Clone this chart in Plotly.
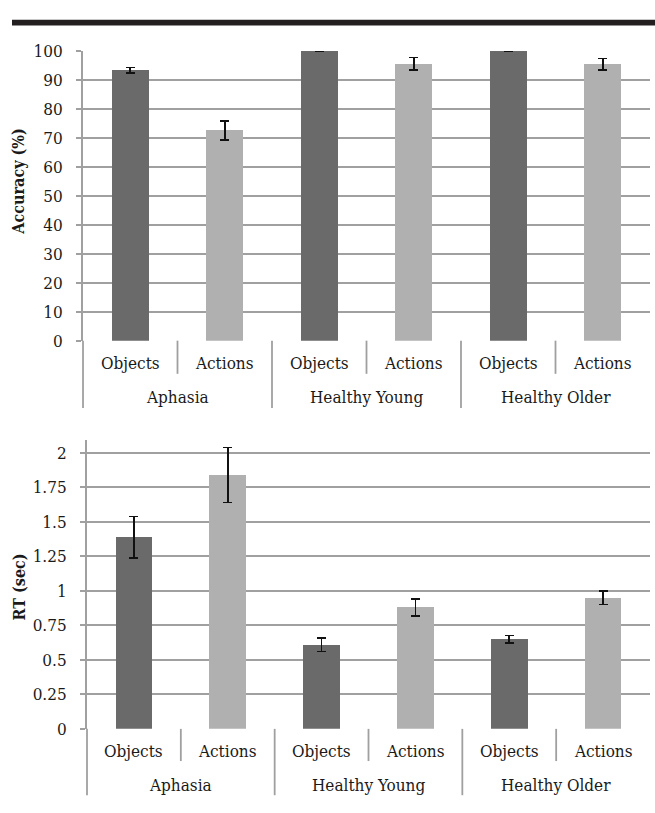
import plotly.graph_objects as go

# ---- data ----
groups = ["Aphasia", "Healthy Young", "Healthy Older"]
conditions = ["Objects", "Actions"]

accuracy = [93.3, 72.6, 100.0, 95.6, 100.0, 95.4]
accuracy_err = [1.0, 3.3, 0.0, 2.1, 0.0, 2.0]

rt = [1.39, 1.84, 0.61, 0.88, 0.65, 0.95]
rt_err = [0.15, 0.20, 0.048, 0.06, 0.028, 0.05]

acc_ticks = list(range(0, 101, 10))
rt_ticks = [0, 0.25, 0.5, 0.75, 1, 1.25, 1.5, 1.75, 2]
rt_tick_text = ["0", "0.25", "0.5", "0.75", "1", "1.25", "1.5", "1.75", "2"]

# ---- styling ----
W, H = 655, 813
DARK = "#6a6a6a"
LIGHT = "#b0b0b0"
GRID = "#a0a0a0"
FONT = "DejaVu Serif Condensed, Liberation Serif, serif"
TXT = "#1a1a1a"

n_cat = len(groups) * len(conditions)
xpos = [i + 0.5 for i in range(n_cat)]
bar_colors = [DARK if i % 2 == 0 else LIGHT for i in range(n_cat)]


def py(pix):
    """pixel row -> paper y"""
    return 1 - pix / H


def px(pix):
    return pix / W


fig = go.Figure()

panels = [
    dict(vals=accuracy, errs=accuracy_err, xa="x", ya="y",
         x0=83, x1=650, top=42, bot=339, rng=[0, 100], ticks=acc_ticks,
         ticktext=[str(t) for t in acc_ticks], title="Accuracy (%)",
         title_y=176, cat_y=362, grp_y=397, cat_end=373, grp_end=408),
    dict(vals=rt, errs=rt_err, xa="x2", ya="y2",
         x0=87, x1=650, top=441, bot=737, rng=[0, 2.092], ticks=rt_ticks,
         ticktext=rt_tick_text, title="RT (sec)",
         title_y=592, cat_y=760, grp_y=795, cat_end=770, grp_end=805),
]

shapes = []
annotations = []

for k, p in enumerate(panels):
    fig.add_trace(go.Bar(
        x=xpos, y=p["vals"], xaxis=p["xa"], yaxis=p["ya"],
        width=0.39, marker=dict(color=bar_colors, line=dict(width=0)),
        error_y=dict(type="data", array=p["errs"], visible=True,
                     color="#111111", thickness=1.6, width=4.5),
        showlegend=False, hoverinfo="skip",
    ))
    suffix = "" if k == 0 else "2"
    fig.update_layout(**{
        "xaxis" + suffix: dict(
            domain=[px(p["x0"]), px(p["x1"])], range=[0, n_cat],
            anchor="y" + suffix, showticklabels=False, showgrid=False,
            zeroline=False, showline=False, fixedrange=True),
        "yaxis" + suffix: dict(
            domain=[py(p["bot"]), py(p["top"])], range=p["rng"],
            anchor="x" + suffix, tickvals=p["ticks"], ticktext=p["ticktext"],
            showgrid=True, gridcolor=GRID, gridwidth=1.8,
            zeroline=False, showline=True, linecolor=GRID, linewidth=1.8,
            ticks="outside", ticklen=5, tickcolor=GRID, tickwidth=1.8,
            ticklabelstandoff=10,
            tickfont=dict(family=FONT, size=17, color=TXT), fixedrange=True),
    })

    xref = p["xa"]
    # separators under the category axis
    for b in range(1, n_cat):
        end = p["grp_end"] if b % 2 == 0 else p["cat_end"]
        shapes.append(dict(type="line", xref=xref, yref="paper",
                           x0=b, x1=b, y0=py(p["bot"]), y1=py(end),
                           line=dict(color=GRID, width=1.8)))
    # y-axis line continues down past the labels
    shapes.append(dict(type="line", xref="paper", yref="paper",
                       x0=px(p["x0"]), x1=px(p["x0"]),
                       y0=py(p["bot"]), y1=py(p["grp_end"]),
                       line=dict(color=GRID, width=1.8)))

    for i in range(n_cat):
        annotations.append(dict(
            x=xpos[i], y=py(p["cat_y"]), xref=xref, yref="paper",
            text=conditions[i % 2], showarrow=False,
            font=dict(family=FONT, size=17, color=TXT),
            xanchor="center", yanchor="middle"))
    for g, name in enumerate(groups):
        annotations.append(dict(
            x=2 * g + 1, y=py(p["grp_y"]), xref=xref, yref="paper",
            text=name, showarrow=False,
            font=dict(family=FONT, size=17, color=TXT),
            xanchor="center", yanchor="middle"))
    annotations.append(dict(
        x=px(19), y=py(p["title_y"]),
        xref="paper", yref="paper", text="<b>%s</b>" % p["title"],
        textangle=-90, showarrow=False,
        font=dict(family=FONT, size=16, color=TXT),
        xanchor="center", yanchor="middle"))

# heavy rule across the top
shapes.append(dict(type="rect", xref="paper", yref="paper",
                   x0=px(12), x1=1, y0=py(16), y1=py(10),
                   fillcolor="#231f20", line=dict(width=0)))

fig.update_layout(
    width=W, height=H, margin=dict(l=0, r=0, t=0, b=0),
    paper_bgcolor="white", plot_bgcolor="white",
    shapes=shapes, annotations=annotations, bargap=0,
)

fig.write_html("out.html")
